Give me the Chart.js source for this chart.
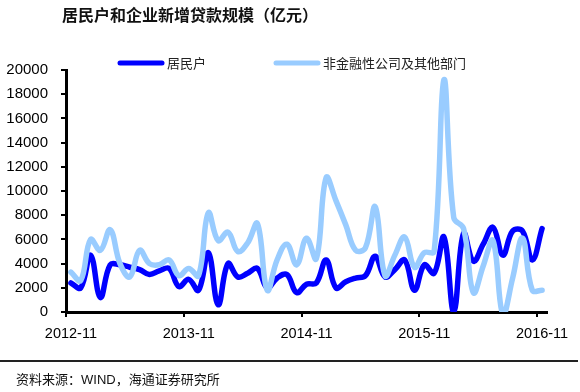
<!DOCTYPE html>
<html>
<head>
<meta charset="utf-8">
<script src="https://cdn.jsdelivr.net/npm/chart.js@4.4.1/dist/chart.umd.min.js"></script>
<style>
  body { margin: 0; background: #fff; }
  #wrap { position: relative; width: 580px; height: 392px; overflow: hidden; }
  #title { position: absolute; left: 62px; top: 2px; font: bold 16px "Noto Sans CJK SC", sans-serif; color: #111; }
  #rule { position: absolute; left: 0; top: 360px; width: 578px; height: 2px; background: #222; }
  #source { position: absolute; left: 16px; top: 369px; font: 13px "Noto Sans CJK SC", sans-serif; color: #111; }
</style>
</head>
<body>
<div id="wrap">
  <canvas id="myChart" width="580" height="392"></canvas>
  <div id="title">居民户和企业新增贷款规模（亿元）</div>
  <div id="rule"></div>
  <div id="source">资料来源：<span style="font-family:'Liberation Sans',Arial">WIND</span>，海通证券研究所</div>
</div>

<script>
// months 2012-11 .. 2016-11
const months = [];
for (let y = 2012, m = 11; y < 2016 || (y === 2016 && m <= 11); ) {
  months.push(y + "-" + (m < 10 ? "0" + m : m));
  m++; if (m > 12) { m = 1; y++; }
}
const tickLabels = ["2012-11", "2013-11", "2014-11", "2015-11", "2016-11"];
const yTicks = [0, 2000, 4000, 6000, 8000, 10000, 12000, 14000, 16000, 18000, 20000];

const seriesNames = ["居民户", "非金融性公司及其他部门"];
const household = [2400, 2000, 4700, 1200, 3900, 3900, 3700, 3500, 3100, 3400, 3600, 2100,
  2700, 1800, 4900, 600, 4000, 2900, 3200, 3600, 2000, 2800, 3100, 1600,
  2300, 2400, 4300, 2000, 2500, 2800, 3000, 4600, 2900, 3500, 4300, 1800,
  3900, 3200, 6200, 0, 6500, 4200, 5600, 7000, 4700, 6700, 6700, 4300, 6900];
const corporate = [3300, 2600, 6000, 5100, 6800, 4000, 2900, 5100, 4000, 3900, 4300, 3000,
  3600, 3000, 8200, 5900, 6600, 5000, 5700, 7300, 1800, 4300, 5600, 3900,
  6100, 4400, 11100, 9200, 7200, 5100, 5300, 8700, 3000, 4700, 6200, 3700,
  4900, 5000, 19200, 7800, 6900, 1600, 3800, 5900, -200, 2800, 6100, 1800, 1800];
const colors = ["#0000ff", "#99ccff"];

// legend drawn on canvas at fixed spots above plot
const legendPlugin = {
  id: "topLegend",
  afterDraw(chart) {
    const ctx = chart.ctx;
    const spots = [118, 274];
    ctx.save();
    ctx.font = "13px 'Noto Sans CJK SC', sans-serif";
    ctx.textBaseline = "middle";
    chart.data.datasets.forEach((ds) => {
      const x = spots[seriesNames.indexOf(ds.label)];
      ctx.strokeStyle = ds.borderColor;
      ctx.lineWidth = 5;
      ctx.lineCap = "round";
      ctx.beginPath();
      ctx.moveTo(x + 2, 63);
      ctx.lineTo(x + 44, 63);
      ctx.stroke();
      ctx.fillStyle = "#222";
      ctx.fillText(ds.label, x + 49, 63);
    });
    ctx.restore();
  }
};

const myChart = new Chart("myChart", {
  type: "line",
  data: {
    labels: months,
    datasets: [{
      label: seriesNames[1],
      data: corporate,
      borderColor: colors[1],
      borderWidth: 5.5,
      order: 0
    }, {
      label: seriesNames[0],
      data: household,
      borderColor: colors[0],
      borderWidth: 5.5,
      order: 1
    }]
  },
  options: {
    responsive: false,
    animation: false,
    layout: { padding: { top: 70, left: 0, right: 33, bottom: 0 } },
    elements: {
      point: { radius: 0 },
      line: { tension: 0.4, borderCapStyle: "round", borderJoinStyle: "round" }
    },
    plugins: { legend: { display: false }, tooltip: { enabled: false } },
    scales: {
      x: {
        offset: true,
        afterFit: (s) => { s.height = 80; },
        grid: {
          offset: true,
          drawOnChartArea: false,
          tickLength: 5,
          lineWidth: 2,
          color: (c) => (c.index !== undefined && c.index % 12 === 0) ? "#000" : "rgba(0,0,0,0)"
        },
        border: { color: "#000", width: 3 },
        ticks: {
          autoSkip: false,
          maxRotation: 0,
          padding: 8,
          color: "#000",
          font: { family: "'Liberation Sans', Arial", size: 14.5 },
          callback: function (v) {
            const l = this.getLabelForValue(v);
            return tickLabels.includes(l) ? l : "";
          }
        }
      },
      y: {
        min: 0,
        max: 20000,
        afterFit: (s) => { s.width = 66; },
        afterBuildTicks: (s) => { s.ticks = yTicks.map(v => ({ value: v })); },
        grid: { drawOnChartArea: false, tickLength: 5, lineWidth: 2, color: "#000" },
        border: { color: "#000", width: 3 },
        ticks: {
          padding: 13,
          color: "#000",
          font: { family: "'Liberation Sans', Arial", size: 15 },
          callback: (v) => String(v)
        }
      }
    }
  },
  plugins: [legendPlugin]
});
</script>
</body>
</html>
